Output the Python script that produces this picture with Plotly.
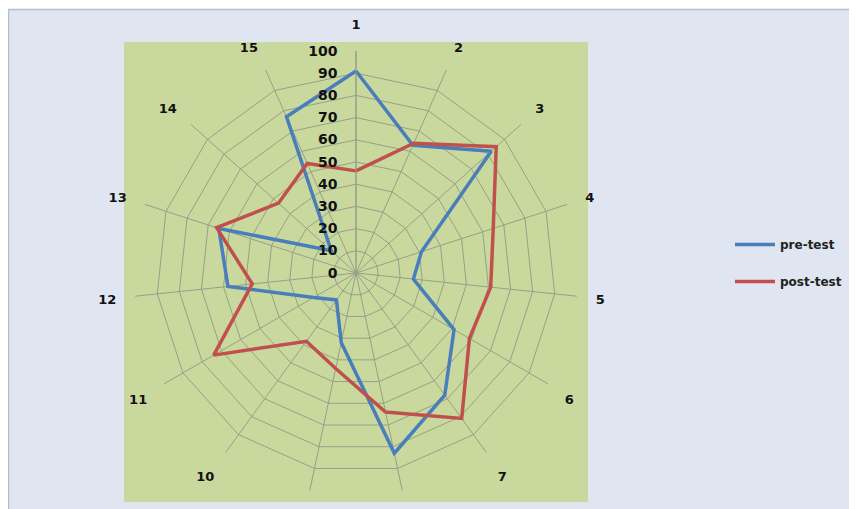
import plotly.graph_objects as go

W, H = 857, 509
OFF = 8  # page body margin

categories = [str(i) for i in range(1, 16)]
pre_test = [91, 63, 82, 31, 26, 51, 68, 83, 32, 15, 22, 58, 65, 15, 77]
post_test = [46, 64, 85, 65, 61, 59, 81, 64, 44, 38, 74, 47, 66, 47, 54]
radial_ticks = list(range(0, 101, 10))

fig = go.Figure()
fig.add_trace(go.Scatterpolar(
    r=pre_test + pre_test[:1], theta=categories + categories[:1],
    mode="lines", name="pre-test", legendgroup="pre",
    line=dict(color="#4a7ebb", width=3.5)))
fig.add_trace(go.Scatterpolar(
    r=post_test + post_test[:1], theta=categories + categories[:1],
    mode="lines", name="post-test", legendgroup="post",
    line=dict(color="#c0504d", width=3.5)))

cx, cy, R = 356 - OFF, 273 - OFF, 222
FONT = "DejaVu Sans"


def px(x):
    return (x - OFF) / W


def py(y):
    return 1 - (y - OFF) / H


fig.update_layout(
    width=W, height=H,
    margin=dict(l=0, r=0, t=0, b=0),
    paper_bgcolor="white",
    font=dict(family=FONT, size=13, color="#111111"),
    polar=dict(
        domain=dict(x=[(cx - R) / W, (cx + R) / W],
                    y=[1 - (cy + R) / H, 1 - (cy - R) / H]),
        bgcolor="rgba(0,0,0,0)",
        gridshape="linear",
        angularaxis=dict(
            type="category", categoryarray=categories,
            direction="clockwise", rotation=90,
            showline=False,
            gridcolor="#979f88", gridwidth=1,
            ticks="outside", ticklen=16, tickcolor="rgba(0,0,0,0)",
            tickfont=dict(family=FONT, size=13, color="#111111", weight="bold"),
        ),
        radialaxis=dict(
            range=[0, 100], tickvals=radial_ticks,
            angle=90, tickangle=90, side="counterclockwise",
            showline=True, linecolor="#979f88", linewidth=1,
            gridcolor="#979f88", gridwidth=1,
            ticks="outside", ticklen=13, tickcolor="rgba(0,0,0,0)",
            tickfont=dict(family=FONT, size=14, color="#111111", weight="bold"),
        ),
    ),
    legend=dict(
        x=px(730), y=py(263), xanchor="left", yanchor="middle",
        bgcolor="rgba(0,0,0,0)",
        font=dict(family=FONT, size=12, color="#222222", weight="bold"),
        tracegroupgap=18, itemwidth=40,
    ),
    shapes=[
        dict(type="rect", xref="paper", yref="paper",
             x0=0.5 / W, x1=1.01, y0=-0.02, y1=1 - 1.5 / H,
             fillcolor="#dfe6f1", line=dict(color="#b9bdc5", width=1.5),
             layer="below"),
        dict(type="rect", xref="paper", yref="paper",
             x0=px(124), x1=px(588), y0=py(502), y1=py(42),
             fillcolor="#c9d99e", line=dict(width=0), layer="below"),
    ],
)

fig.write_html("out.html")
